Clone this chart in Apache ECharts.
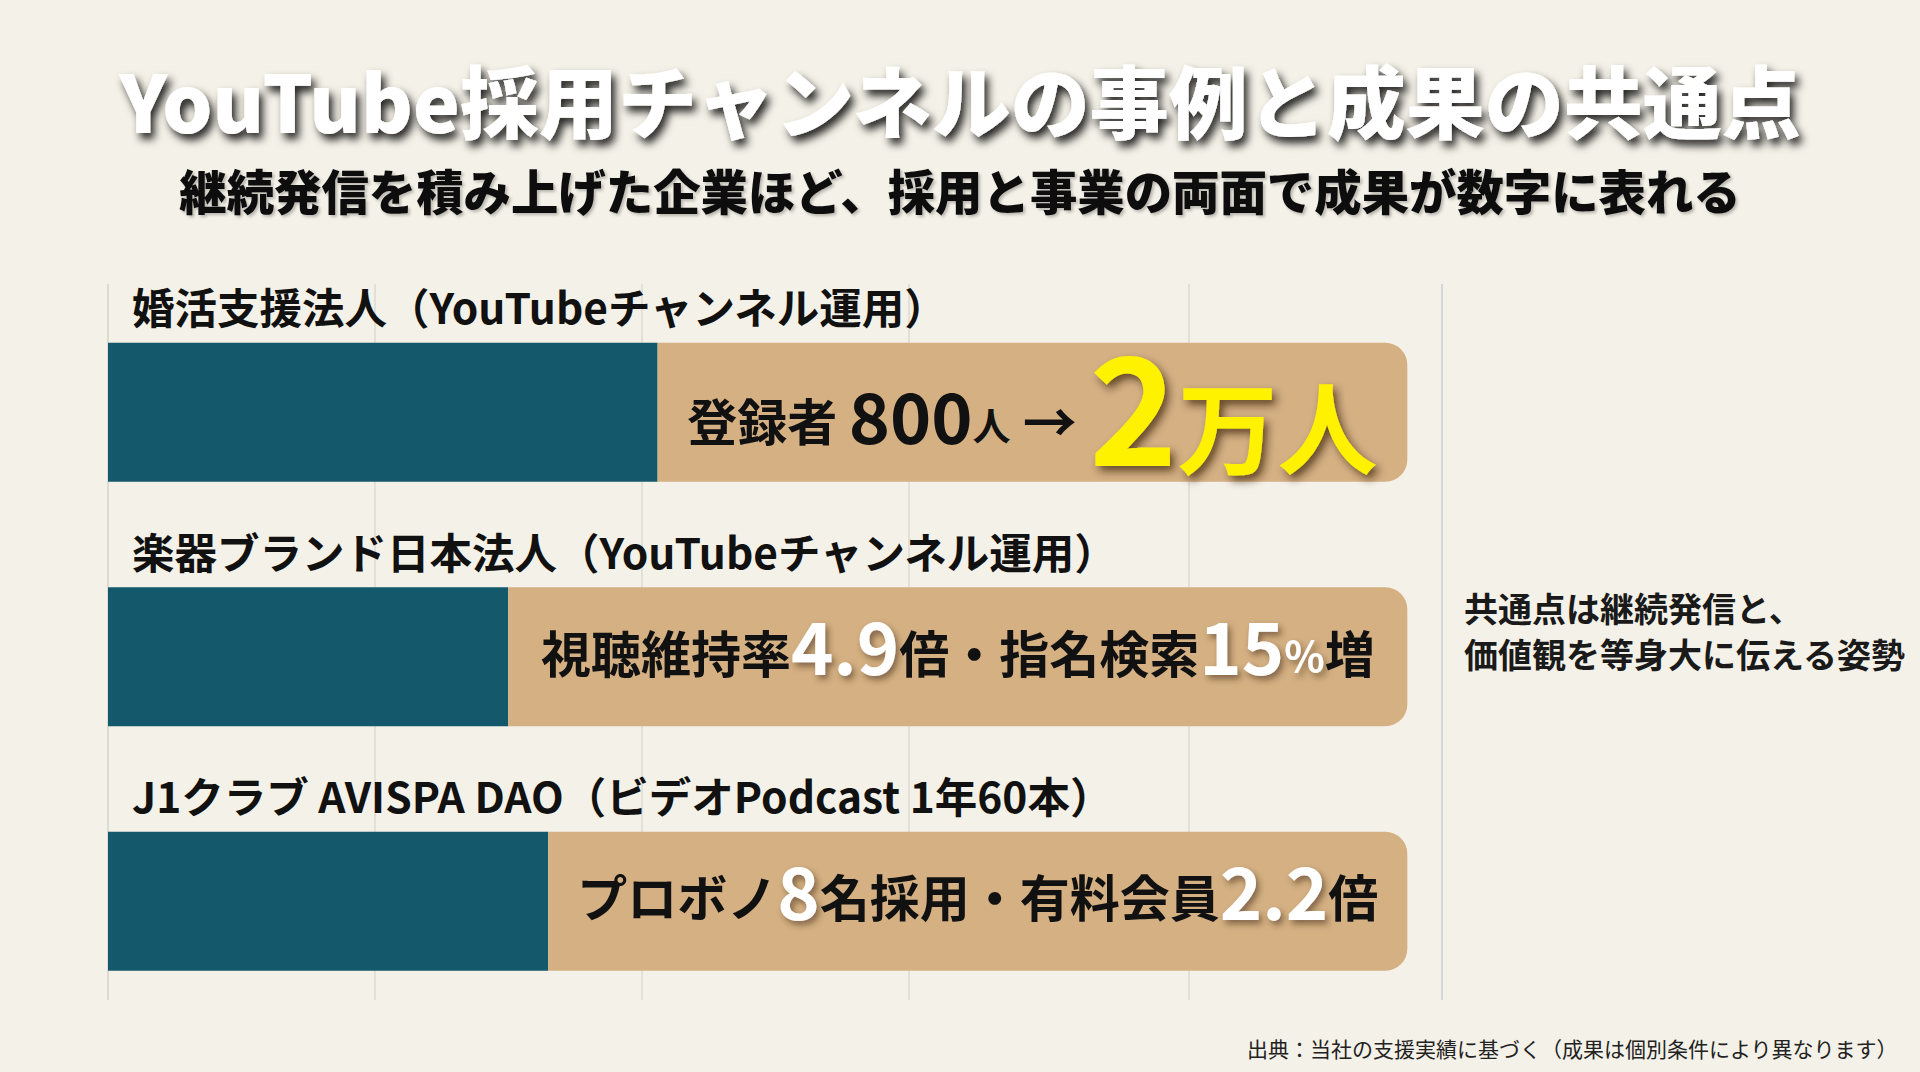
<!DOCTYPE html>
<html><head><meta charset="utf-8">
<script src="https://cdn.jsdelivr.net/npm/echarts@6/dist/echarts.min.js"></script>
<style>html,body{margin:0;padding:0;background:#F4F1E8;}#c{width:1920px;height:1072px;}</style>
</head><body><div id="c"></div>
<script>
// ---- data ----
const categories = [
  '婚活支援法人（YouTubeチャンネル運用）',
  '楽器ブランド日本法人（YouTubeチャンネル運用）',
  'J1クラブ AVISPA DAO（ビデオPodcast 1年60本）'
];
const baseValues = [2.06, 1.50, 1.65];
const resultValues = [2.81, 3.37, 3.22];
const resultLabels = [
  '{b|登録者 }{n|800}{s|人}{a| → }{y|2}{yk|万人}',
  '{t|視聴維持率}{w|4.9}{t|倍・指名検索}{w|15}{p|%}{t|増}',
  '{t|プロボノ}{w|8}{t|名採用・有料会員}{w|2.2}{t|倍}'
];
const axisMin = 0, axisMax = 5, axisStep = 1;
const gridTickValues = [0, 1, 2, 3, 4.05, 5];
const titleText = 'YouTube採用チャンネルの事例と成果の共通点';
const subtitleText = '継続発信を積み上げた企業ほど、採用と事業の両面で成果が数字に表れる';
const noteText = '共通点は継続発信と、\n価値観を等身大に伝える姿勢';
const sourceText = '出典：当社の支援実績に基づく（成果は個別条件により異なります）';

const FONT = '"Noto Sans CJK JP", "Noto Sans", sans-serif';
const chart = echarts.init(document.getElementById('c'), null, {renderer: 'svg'});
const shadowW = {textShadowColor: 'rgba(60,40,20,0.55)', textShadowBlur: 6, textShadowOffsetX: 3, textShadowOffsetY: 4};
const shadowY = {textShadowColor: 'rgba(50,30,0,0.7)', textShadowBlur: 8, textShadowOffsetX: 4, textShadowOffsetY: 5};
const dark = {fontFamily: FONT, fontWeight: 'bold', color: '#111111', verticalAlign: 'bottom'};
chart.setOption({
  backgroundColor: '#F4F1E8',
  title: [
    {text: titleText, left: 'center', top: 54,
     textStyle: {fontFamily: FONT, fontWeight: 900, fontSize: 79, color: '#ffffff',
       textShadowColor: 'rgba(0,0,0,0.85)', textShadowBlur: 8, textShadowOffsetX: 4, textShadowOffsetY: 6}},
    {text: subtitleText, left: 'center', top: 161,
     textStyle: {fontFamily: FONT, fontWeight: 900, fontSize: 47.4, color: '#111111',
       textShadowColor: 'rgba(0,0,0,0.25)', textShadowBlur: 3, textShadowOffsetX: 2, textShadowOffsetY: 2}},
    {text: noteText, left: 1459, top: 579,
     textStyle: {fontFamily: FONT, fontWeight: 'bold', fontSize: 34, lineHeight: 46, color: '#1a1a1a'}},
    {text: sourceText, right: 17, top: 1032,
     textStyle: {fontFamily: FONT, fontWeight: 'normal', fontSize: 21, color: '#222222'}}
  ],
  grid: [
    {left: 108, right: 478, top: 284, bottom: 72},
    {left: 108, right: 478, top: 290, height: 733.5}
  ],
  xAxis: [
    {gridIndex: 0, type: 'value', min: axisMin, max: axisMax, interval: axisStep,
     axisLine: {show: false}, axisTick: {show: false, customValues: gridTickValues}, axisLabel: {show: false},
     splitLine: {show: true, lineStyle: {width: 1.5,
       color: ['#d6d3cb', '#dddad2', '#dddad2', '#dddad2', '#dddad2', '#c9ccd6']}}},
    {gridIndex: 1, type: 'value', min: axisMin, max: axisMax, show: false}
  ],
  yAxis: [
    {gridIndex: 0, type: 'value', min: 0, max: 1, show: false},
    {gridIndex: 1, type: 'category', data: categories, inverse: true, show: false}
  ],
  series: [
    {type: 'bar', name: 'base', stack: 'total', xAxisIndex: 1, yAxisIndex: 1,
     data: baseValues, barWidth: 139, silent: true,
     itemStyle: {color: '#13586B'},
     label: {show: true, position: [24, -37], align: 'left', verticalAlign: 'middle',
       formatter: p => categories[p.dataIndex],
       fontFamily: FONT, fontWeight: 'bold', fontSize: 42.5, color: '#111111'}},
    {type: 'bar', name: 'result', stack: 'total', xAxisIndex: 1, yAxisIndex: 1,
     data: resultValues, barWidth: 139, silent: true,
     itemStyle: {color: '#D4B083', borderRadius: [0, 22, 22, 0]},
     label: {show: true, position: 'inside', offset: [0, -13],
       formatter: p => resultLabels[p.dataIndex],
       rich: {
         t: Object.assign({}, dark, {fontSize: 50, padding: [0, 0, 4, 0]}),
         b: Object.assign({}, dark, {fontSize: 50, padding: [0, 0, 29, 0]}),
         s: Object.assign({}, dark, {fontSize: 38, padding: [0, 0, 31, 0]}),
         a: Object.assign({}, dark, {fontSize: 54, padding: [0, 0, 27, 0]}),
         n: Object.assign({}, dark, {fontSize: 70, padding: [0, 0, 25, 0]}),
         p: Object.assign({fontFamily: FONT, fontWeight: 'bold', fontSize: 42, color: '#ffffff', verticalAlign: 'bottom', padding: [0, 0, 5, 0]}, shadowW),
         w: Object.assign({fontFamily: FONT, fontWeight: 'bold', fontSize: 72, color: '#ffffff', verticalAlign: 'bottom'}, shadowW),
         y: Object.assign({fontFamily: FONT, fontWeight: 'bold', fontSize: 150, color: '#FFF200', verticalAlign: 'bottom', padding: [0, 0, -2, 0]}, shadowY),
         yk: Object.assign({fontFamily: FONT, fontWeight: 'bold', fontSize: 100, color: '#FFF200', verticalAlign: 'bottom', padding: [0, 0, 0, 0]}, shadowY)
       }}}
  ]
});
</script></body></html>
